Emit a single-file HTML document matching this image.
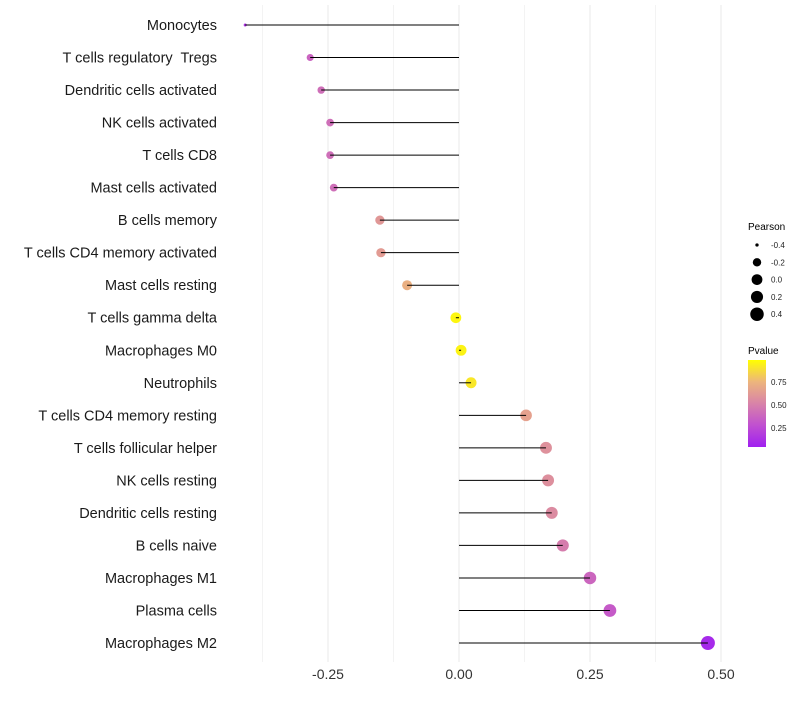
<!DOCTYPE html>
<html><head><meta charset="utf-8"><style>
body{margin:0;background:#fff;font-family:"Liberation Sans",sans-serif;}
text{white-space:pre;}
</style></head><body>
<svg id="chart" width="800" height="700" xmlns="http://www.w3.org/2000/svg">
<defs><linearGradient id="pg" x1="0" y1="1" x2="0" y2="0">
<stop offset="0" stop-color="#A020F0"/><stop offset="0.25" stop-color="#C050D0"/><stop offset="0.5" stop-color="#D883A8"/><stop offset="0.75" stop-color="#EDB57C"/><stop offset="1" stop-color="#FFFF00"/>
</linearGradient></defs>
<g id="grid"></g>
<g id="marks"></g>
<g id="ylab"></g>
<g id="xlab"></g>
<g id="sizeleg">
<text x="748" y="230" font-size="10">Pearson</text>
</g>
<g>
<text x="748" y="354" font-size="10">Pvalue</text>
<rect x="748" y="360" width="18" height="87" fill="url(#pg)"/>
<g font-size="8" fill="#222">
<text x="771" y="385">0.75</text>
<text x="771" y="408">0.50</text>
<text x="771" y="431">0.25</text>
</g>
</g>
</svg>
<script>
const categories=["Monocytes","T cells regulatory  Tregs","Dendritic cells activated","NK cells activated","T cells CD8","Mast cells activated","B cells memory","T cells CD4 memory activated","Mast cells resting","T cells gamma delta","Macrophages M0","Neutrophils","T cells CD4 memory resting","T cells follicular helper","NK cells resting","Dendritic cells resting","B cells naive","Macrophages M1","Plasma cells","Macrophages M2"];
const pearson=[-0.408,-0.284,-0.263,-0.246,-0.246,-0.239,-0.151,-0.149,-0.099,-0.006,0.004,0.023,0.128,0.166,0.170,0.177,0.198,0.25,0.288,0.475];
const pvalue=[0.1,0.35,0.4,0.4,0.4,0.4,0.6,0.62,0.72,0.97,0.96,0.92,0.65,0.57,0.56,0.54,0.47,0.36,0.3,0.05];
const xTicks=[-0.25,0,0.25,0.5];
const xTickLabels=["-0.25","0.00","0.25","0.50"];
const sizeLegend=[-0.4,-0.2,0,0.2,0.4];
const NS="http://www.w3.org/2000/svg";
function x(v){return 459+v*524;}
function y(i){return 25+i*(618/(categories.length-1));}
const rtab=[[-0.41,1.5],[-0.28,3.6],[-0.1,5],[0,5.4],[0.475,7]];
function rad(p){if(p<=rtab[0][0])return rtab[0][1];for(let k=1;k<rtab.length;k++){if(p<=rtab[k][0]){const t=(p-rtab[k-1][0])/(rtab[k][0]-rtab[k-1][0]);return rtab[k-1][1]+t*(rtab[k][1]-rtab[k-1][1]);}}return 7;}
const stops=[[0,[160,32,240]],[0.25,[192,80,208]],[0.5,[216,131,168]],[0.75,[237,181,124]],[1,[255,255,0]]];
function col(p){for(let k=1;k<stops.length;k++){if(p<=stops[k][0]){const [a,ca]=stops[k-1],[b,cb]=stops[k];const t=(p-a)/(b-a);return "rgb("+ca.map((c,j)=>Math.round(c+(cb[j]-c)*t)).join(",")+")";}}return "rgb(255,255,0)";}
function mk(t,at,parent){const e=document.createElementNS(NS,t);for(const k in at)e.setAttribute(k,at[k]);parent.appendChild(e);return e;}
const grid=document.getElementById('grid'),marks=document.getElementById('marks'),ylab=document.getElementById('ylab'),xlab=document.getElementById('xlab');
[-0.375,-0.25,-0.125,0,0.125,0.25,0.375,0.5].forEach(v=>{const l=mk('line',{x1:x(v),x2:x(v),y1:5,y2:662,stroke:'#ebebeb','stroke-width':(v*8)%2===0?1.1:0.6},grid);

});
categories.forEach((c,i)=>{
const d=mk('circle',{cx:x(pearson[i]),cy:y(i),r:rad(pearson[i]),fill:col(pvalue[i])},marks);


const l=mk('line',{x1:x(0),x2:x(pearson[i]),y1:y(i),y2:y(i),stroke:'#000','stroke-width':1},marks);


const t=mk('text',{x:217,y:y(i)+5,'text-anchor':'end','font-size':14.5,fill:'#1a1a1a'},ylab);t.textContent=c;


});
xTicks.forEach((v,i)=>{const t=mk('text',{x:x(v),y:679,'text-anchor':'middle','font-size':14,fill:'#333'},xlab);t.textContent=xTickLabels[i];

});
const sl=document.getElementById('sizeleg');
sizeLegend.forEach((v,i)=>{const cy=245+i*17.3;const c=mk('circle',{cx:757,cy:cy,r:rad(v),fill:'#000'},sl);


const t=mk('text',{x:771,y:cy+3,'font-size':8,fill:'#222'},sl);t.textContent=v.toFixed(1);

});
</script>
</body></html>
